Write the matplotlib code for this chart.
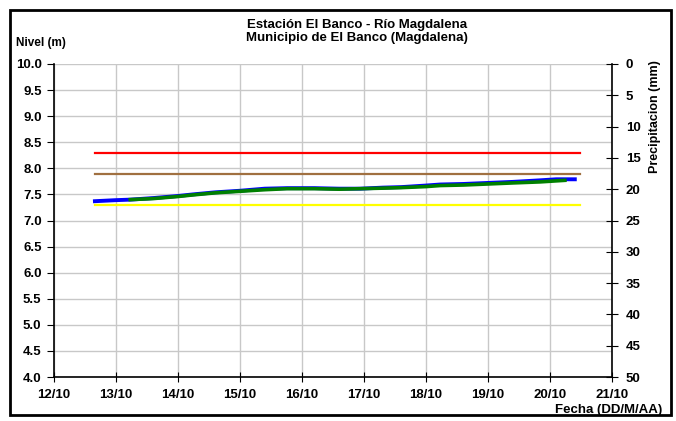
import numpy as np
import matplotlib.pyplot as plt
import matplotlib.patches as patches
import matplotlib as mpl

mpl.rcParams['font.family'] = ['Liberation Sans', 'DejaVu Sans']
mpl.rcParams['font.weight'] = 'bold'

# dias (dia del mes, octubre) y nivel (m)
nivel_dias = [12.66, 13.0, 13.23, 13.6, 14.0, 14.24, 14.6, 15.0, 15.4, 15.76,
              16.2, 16.6, 16.94, 17.3, 17.6, 18.0, 18.23, 18.6, 19.0, 19.4,
              19.84, 20.1, 20.4]
nivel_m = [7.37, 7.39, 7.40, 7.43, 7.47, 7.50, 7.54, 7.57, 7.61, 7.62,
           7.62, 7.61, 7.61, 7.63, 7.64, 7.67, 7.69, 7.70, 7.72, 7.74,
           7.77, 7.79, 7.79]
# serie suavizada (verde)
suav_dias = [13.23, 13.6, 14.0, 14.24, 14.6, 15.0, 15.4, 15.76, 16.2, 16.6,
             16.94, 17.3, 17.6, 18.0, 18.23, 18.6, 19.0, 19.4, 19.84, 20.24]
suav_m = [7.40, 7.42, 7.46, 7.49, 7.53, 7.56, 7.59, 7.61, 7.61, 7.60,
          7.61, 7.62, 7.63, 7.65, 7.67, 7.68, 7.70, 7.72, 7.74, 7.77]

# umbrales
umbral_ini, umbral_fin = 12.66, 20.48
umbral_rojo = 8.3
umbral_naranja = 7.9
umbral_amarillo = 7.3

dias_ticks = list(range(12, 22))
dias_labels = ["%d/10" % d for d in dias_ticks]

fig = plt.figure(figsize=(6.76, 4.21), dpi=100)
ax = fig.add_axes([54/676, 1-377/421, 558/676, 313/421])

ax.plot([umbral_ini, umbral_fin], [umbral_rojo]*2, color='#ff0000', lw=1.6)
ax.plot([umbral_ini, umbral_fin], [umbral_naranja]*2, color='#a07040', lw=1.6)
ax.plot([umbral_ini, umbral_fin], [umbral_amarillo]*2, color='#ffff00', lw=1.6)
ax.plot(nivel_dias, nivel_m, color='#0000ff', lw=2.8)
ax.plot(suav_dias, suav_m, color='#008000', lw=2.6)

ax.set_xlim(12, 21)
ax.set_ylim(4.0, 10.0)
ax.set_xticks(dias_ticks)
ax.set_xticklabels(dias_labels)
ax.set_yticks(np.arange(4.0, 10.01, 0.5))
ax.yaxis.set_major_formatter(mpl.ticker.FormatStrFormatter('%.1f'))
ax.grid(True, color='#c8c8c8', lw=1)
ax.set_axisbelow(True)
ax.spines['top'].set_visible(False)
ax.spines['right'].set_visible(False)
for s in ['left', 'bottom']:
    ax.spines[s].set_linewidth(1.2)
ax.tick_params(axis='y', direction='out', length=5, labelsize=9.5, pad=4)
ax.tick_params(axis='x', direction='inout', length=7, labelsize=9.5, pad=5)

ax2 = ax.twinx()
ax2.set_ylim(50, 0)
ax2.set_yticks(range(0, 51, 5))
ax2.spines['top'].set_visible(False)
ax2.spines['left'].set_visible(False)
ax2.spines['bottom'].set_visible(False)
ax2.spines['right'].set_linewidth(1.2)
ax2.tick_params(axis='y', direction='inout', length=8, labelsize=9.5, pad=6)

fig.text(655/676, 1-117/421, 'Precipitacion (mm)', rotation=90, ha='center', va='center',
         fontsize=9, fontweight='bold')
fig.text(357/676, 1-25/421, u'Estación El Banco - Río Magdalena', ha='center', va='center',
         fontsize=9.5, fontweight='bold')
fig.text(357/676, 1-38/421, 'Municipio de El Banco (Magdalena)', ha='center', va='center',
         fontsize=9.5, fontweight='bold')
fig.text(16/676, 1-43/421, 'Nivel (m)', ha='left', va='center', fontsize=8.5, fontweight='bold')
fig.text(662/676, 1-410/421, 'Fecha (DD/M/AA)', ha='right', va='center', fontsize=9.5,
         fontweight='bold')

fig.patches.append(patches.Rectangle((10/676, 1-415/421), 661/676, 405/421,
                                     transform=fig.transFigure, fill=False,
                                     edgecolor='black', lw=2))

fig.savefig('out.png', dpi=100)
